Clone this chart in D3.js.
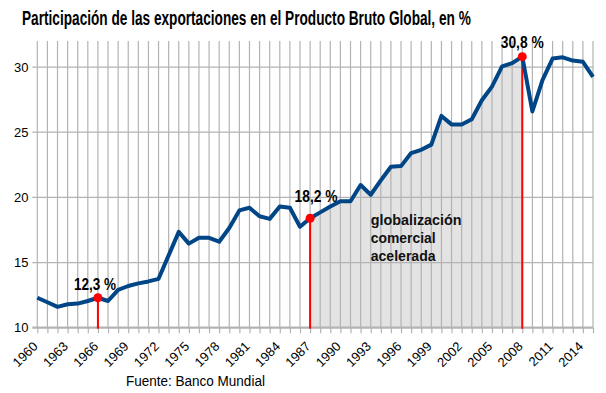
<!DOCTYPE html>
<html><head><meta charset="utf-8">
<script src="https://cdn.jsdelivr.net/npm/d3@7"></script>
<style>body{margin:0;background:#fff}svg{display:block}</style>
</head><body>
<script>
// ---- data ----
const years = d3.range(1960, 2016);
const values = [
  12.3, 11.95, 11.6, 11.8, 11.85, 12.05, 12.3, 12.05, 12.9, 13.2,
  13.4, 13.55, 13.75, 15.55, 17.35, 16.45, 16.9, 16.9, 16.6, 17.65,
  19.0, 19.2, 18.55, 18.35, 19.3, 19.2, 17.75, 18.4, 18.85, 19.3,
  19.7, 19.7, 20.95, 20.2, 21.3, 22.35, 22.4, 23.4, 23.65, 24.05,
  26.25, 25.6, 25.6, 26.0, 27.45, 28.5, 30.05, 30.3, 30.8, 26.6,
  29.0, 30.65, 30.75, 30.5, 30.4, 29.25
];
const yTicks = [10, 15, 20, 25, 30];
const xLabelYears = d3.range(1960, 2015, 3);
const highlightYears = [1966, 1987, 2008];
const highlightLabels = ["12,3 %", "18,2 %", "30,8 %"];
const shadeRange = [1987, 2008];
const noteLines = ["globalización", "comercial", "acelerada"];
const titleText = "Participación de las exportaciones en el Producto Bruto Global, en %";
const sourceText = "Fuente: Banco Mundial";

// ---- layout ----
const W = 606, H = 393;
const m = {left: 37.3, right: 593, top: 41, bottom: 327.7};
const data = years.map((y, i) => ({year: y, value: values[i]}));
const x = d3.scaleLinear().domain([1960, 2015]).range([m.left, m.right]);
const y = d3.scaleLinear().domain([10, 32]).range([m.bottom, m.top]);
const sans = "'Liberation Sans',Arial,sans-serif";
const labelOffsets = [{dx: -3, dy: -8}, {dx: 6, dy: -16}, {dx: 0, dy: -9}];
const labelWidths = [42, 43, 43];

const svg = d3.select("body").append("svg").attr("width", W).attr("height", H);

// place text at (px,py) scaled horizontally to given width
function fitText(parent, str, px, py, width, size, weight, fill) {
  const t = parent.append("text").attr("x", 0).attr("y", 0)
    .attr("font-family", sans).attr("font-size", size)
    .attr("font-weight", weight).attr("fill", fill).text(str);
  const natural = t.node().getComputedTextLength();
  t.attr("transform", `translate(${px},${py}) scale(${width / natural},1)`);
  return t;
}

// shaded area
const shade = data.filter(d => d.year >= shadeRange[0] && d.year <= shadeRange[1]);
svg.append("path").datum(shade)
  .attr("d", d3.area().x(d => x(d.year)).y0(y(10)).y1(d => y(d.value)))
  .attr("fill", "#e3e3e3");

// grid
const grid = svg.append("g").attr("stroke", "#b3b3b3").attr("stroke-width", 1.2);
grid.selectAll("line.v").data(years).join("line")
  .attr("x1", d => x(d)).attr("x2", d => x(d)).attr("y1", m.top).attr("y2", m.bottom);
grid.selectAll("line.h").data(yTicks.filter(t => t > 10)).join("line")
  .attr("x1", m.left - 5).attr("x2", m.right).attr("y1", d => y(d)).attr("y2", d => y(d));

// x axis
const xAxis = svg.append("g").attr("transform", `translate(0,${y(10)})`)
  .call(d3.axisBottom(x).tickValues(years).tickSize(5.5).tickFormat(""));
xAxis.select(".domain").attr("stroke", "#b3b3b3").attr("stroke-width", 2.2)
  .attr("d", `M${m.left - 5},0H${m.right}`);
xAxis.selectAll(".tick line").attr("stroke", "#b3b3b3").attr("stroke-width", 1.2);

svg.append("g").selectAll("text").data(xLabelYears).join("text")
  .attr("transform", d => `translate(${x(d) - 2},344) rotate(-45)`)
  .attr("text-anchor", "end").attr("dy", "0.35em")
  .attr("font-family", sans).attr("font-size", 13).attr("fill", "#000")
  .text(d => d);

// y labels
svg.append("g").selectAll("text").data(yTicks).join("text")
  .attr("x", 28.5).attr("y", d => y(d)).attr("dy", "0.35em")
  .attr("text-anchor", "end").attr("font-family", sans).attr("font-size", 13)
  .attr("fill", "#000").text(d => d);

// red highlight lines
const hl = data.filter(d => highlightYears.includes(d.year));
svg.append("g").selectAll("line").data(hl).join("line")
  .attr("x1", d => x(d.year)).attr("x2", d => x(d.year))
  .attr("y1", d => y(d.value)).attr("y2", y(10) + 1)
  .attr("stroke", "#ff0000").attr("stroke-width", 2);

// series line
svg.append("path").datum(data)
  .attr("d", d3.line().x(d => x(d.year)).y(d => y(d.value)))
  .attr("fill", "none").attr("stroke", "#004586").attr("stroke-width", 4)
  .attr("stroke-linejoin", "round").attr("stroke-linecap", "butt");

// dots
svg.append("g").selectAll("circle").data(hl).join("circle")
  .attr("cx", d => x(d.year)).attr("cy", d => y(d.value)).attr("r", 4.5)
  .attr("fill", "#ff0000");

// highlight labels
const lg = svg.append("g");
hl.forEach((d, i) => {
  fitText(lg, highlightLabels[i],
    x(d.year) + labelOffsets[i].dx - labelWidths[i] / 2,
    y(d.value) + labelOffsets[i].dy, labelWidths[i], 16.5, "bold", "#000");
});

// note
const noteW = [91, 65, 65];
const ng = svg.append("g");
noteLines.forEach((s, i) => fitText(ng, s, 370.7, 225 + i * 17.8, noteW[i], 15, "bold", "#111"));

// title
fitText(svg, titleText, 22, 25, 449, 20.5, "bold", "#000");

// source
fitText(svg, sourceText, 126, 386, 139, 15.5, "normal", "#000");
</script>
</body></html>
